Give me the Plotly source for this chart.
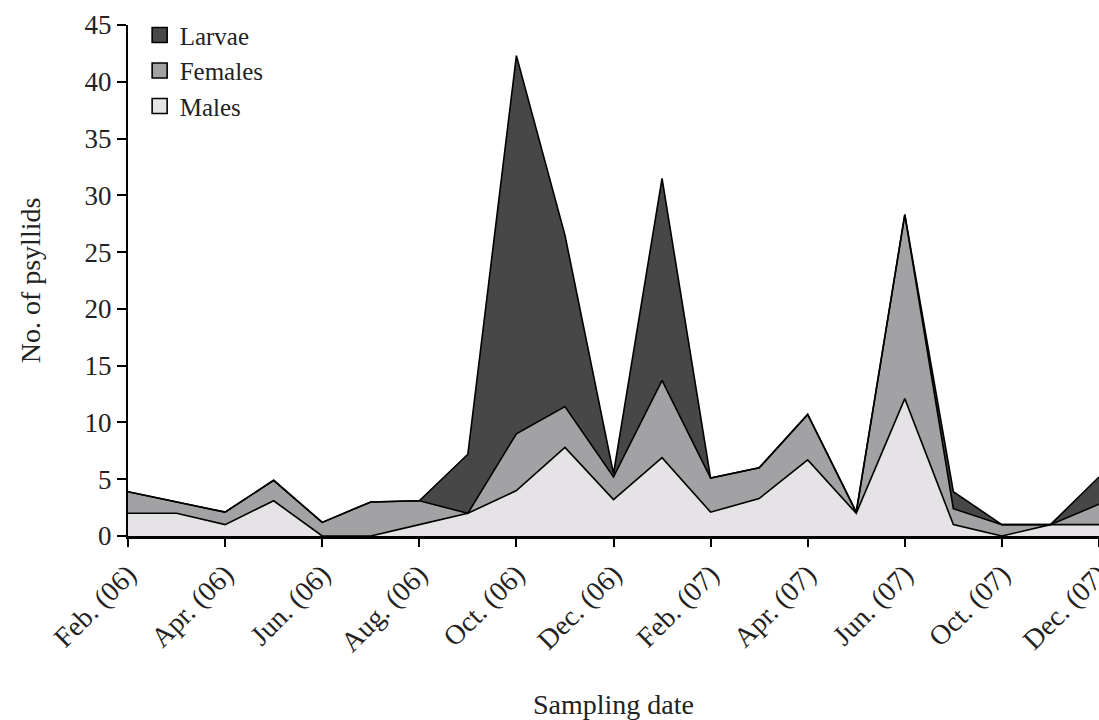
import plotly.graph_objects as go

# Sampling months (one sample per category; only every other one is labelled)
months = [
    "Feb. (06)", "Mar. (06)", "Apr. (06)", "May (06)", "Jun. (06)", "Jul. (06)",
    "Aug. (06)", "Sep. (06)", "Oct. (06)", "Nov. (06)", "Dec. (06)", "Jan. (07)",
    "Feb. (07)", "Mar. (07)", "Apr. (07)", "May (07)", "Jun. (07)", "Aug. (07)",
    "Oct. (07)", "Nov. (07)", "Dec. (07)",
]
tick_labels = months[0::2]

# Psyllid counts per sample, stacked bottom to top: males, females, larvae
males = [2, 2, 1, 3.1, 0, 0, 1, 2, 4, 7.8, 3.2, 6.9, 2.1, 3.3, 6.7, 2, 12.1, 1, 0, 1, 1]
females = [1.9, 1, 1.1, 1.8, 1.2, 3, 2.1, 0, 5, 3.6, 2, 6.8, 3, 2.7, 4, 0.1, 16.2, 1.4, 1, 0, 1.8]
larvae = [0, 0, 0, 0, 0, 0, 0, 5.2, 33.3, 15.1, 0.3, 17.8, 0, 0, 0, 0, 0, 1.5, 0, 0, 2.4]

series = [
    ("Males", males, "#e6e3e6"),
    ("Females", females, "#a2a1a3"),
    ("Larvae", larvae, "#474747"),
]

SERIF = "Liberation Serif, Times New Roman, serif"

fig = go.Figure()
for name, vals, color in series:
    fig.add_trace(go.Scatter(
        x=months, y=vals, name=name, mode="lines",
        stackgroup="psyllids", fillcolor=color,
        line=dict(color="black", width=1.6, shape="linear"),
        showlegend=False, hoverinfo="x+y+name",
    ))

# Legend entries drawn as outlined squares, larvae listed first
for name, vals, color in reversed(series):
    fig.add_trace(go.Scatter(
        x=[None], y=[None], name=name, mode="markers",
        marker=dict(symbol="square", size=15, color=color,
                    line=dict(color="black", width=1.6)),
    ))

fig.update_layout(
    width=1099, height=720,
    margin=dict(l=128, r=0, t=25, b=184),
    paper_bgcolor="white", plot_bgcolor="white",
    font=dict(family=SERIF, size=27, color="#222222"),
    legend=dict(x=0.012, y=1.025, xanchor="left", yanchor="top",
                traceorder="normal", bgcolor="rgba(0,0,0,0)",
                font=dict(size=25), itemsizing="trace", tracegroupgap=0),
    xaxis=dict(
        type="category", range=[0, len(months) - 1], automargin=False,
        tickmode="array", tickvals=tick_labels, ticktext=tick_labels,
        tickangle=-45, ticks="outside", ticklen=8, tickwidth=1.5,
        tickcolor="black", showline=True, linecolor="black", linewidth=3,
        showgrid=False, zeroline=False, tickfont=dict(size=28),
        title=dict(text="Sampling date", standoff=40, font=dict(size=28)),
    ),
    yaxis=dict(
        range=[0, 45], tickmode="linear", tick0=0, dtick=5, automargin=False,
        ticks="outside", ticklen=9, tickwidth=1.5, tickcolor="black",
        showline=True, linecolor="black", linewidth=2,
        showgrid=False, zeroline=False, tickfont=dict(size=27),
        title=dict(text="No. of psyllids", standoff=36, font=dict(size=28)),
    ),
)

fig.write_html("out.html")
